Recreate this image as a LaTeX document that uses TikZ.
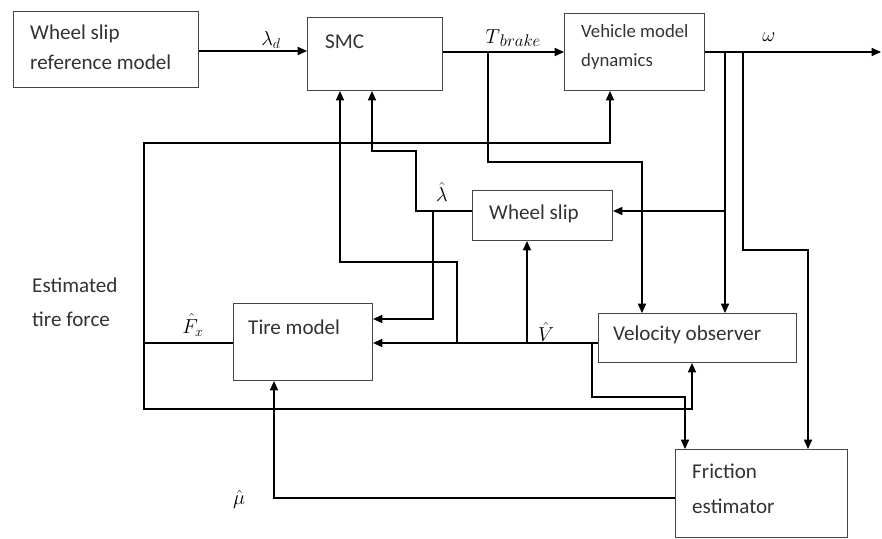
\documentclass[tikz,border=0pt]{standalone}
\usepackage{fontspec}
\setmainfont{Carlito}
\usepackage{tikz}
\usetikzlibrary{arrows.meta}
\definecolor{boxline}{RGB}{70,70,70}
\definecolor{txtgray}{RGB}{50,50,55}

\begin{document}
\begin{tikzpicture}[
    x=0.03cm,y=-0.03cm,
    >={Triangle[length=8pt,width=7pt]},
    block/.style={
      rectangle,draw=boxline,line width=0.9pt,anchor=north west,inner sep=0pt
    },
    txt/.style={
      anchor=west,inner sep=0pt,text=txtgray,align=left,
      font=\fontsize{18}{25.5}\selectfont
    },
    lbl/.style={inner sep=0pt,font=\fontsize{18}{20}\selectfont},
    sig/.style={->,line width=1pt,color=black}
  ]
    \useasboundingbox (0,0) rectangle (882,539);

    % blocks
    \node[block,minimum width=5.55cm,minimum height=2.28cm] (ref) at (13,11) {};
    \node[block,minimum width=4.05cm,minimum height=2.19cm] (smc) at (307,17) {};
    \node[block,minimum width=4.2cm,minimum height=2.31cm] (veh) at (564,13) {};
    \node[block,minimum width=4.2cm,minimum height=1.5cm] (slip) at (472,190) {};
    \node[block,minimum width=5.94cm,minimum height=1.47cm] (obs) at (598,313) {};
    \node[block,minimum width=4.17cm,minimum height=2.31cm] (tire) at (233,303) {};
    \node[block,minimum width=5.16cm,minimum height=2.64cm] (fric) at (675,449) {};

    % block texts
    \node[txt] (reft) at (30,47) {Wheel slip\\reference model};
    \node[txt] (smct) at (325,42) {SMC};
    \node[txt,font=\fontsize{16}{25.5}\selectfont] (veht) at (581,47) {Vehicle model\\dynamics};
    \node[txt] (slipt) at (489,214) {Wheel slip};
    \node[txt] (obst) at (613,335) {Velocity observer};
    \node[txt] (tiret) at (248,327) {Tire model};
    \node[txt,font=\fontsize{18}{30}\selectfont] (frict) at (692,489) {Friction\\estimator};
    \node[txt,font=\fontsize{18}{29}\selectfont] (est) at (32,302) {Estimated\\tire force};

    % signal labels
    \node[lbl] (lamd) at (271,40) {$\lambda_d$};
    \node[lbl] (tbrk) at (513,38) {$T$\raisebox{-3pt}{\fontsize{15}{15}\selectfont$brake$}};
    \node[lbl] (omg) at (769,37) {$\omega$};
    \node[lbl] (lamh) at (442,192) {$\hat{\lambda}$};
    \node[lbl] (fxh) at (193,325) {$\hat{F}_x$};
    \node[lbl] (vhat) at (546,332) {$\hat{V}$};
    \node[lbl] (muh) at (239,499) {$\hat{\mu}$};

    % tap points
    \coordinate (out) at (881,52);
    \coordinate (tb) at (488,52);
    \coordinate (tbk) at (642,162);
    \coordinate (w1) at (725,52);
    \coordinate (w2) at (743,52);
    \coordinate (w2k) at (808,250);
    \coordinate (v1) at (527,343);
    \coordinate (v2) at (457,343);
    \coordinate (v2k) at (340,262);
    \coordinate (v3) at (592,343);
    \coordinate (v3k) at (685,397);
    \coordinate (l1) at (433,211);
    \coordinate (l1k) at (416,151);
    \coordinate (l2k) at (372,90);
    \coordinate (f1) at (144,343);
    \coordinate (f1k) at (610,143);
    \coordinate (f2k) at (692,409);

    % forward path
    \draw[sig] (ref.east |- 0,51) -- (smc.west |- 0,51);
    \draw[sig] (smc.east |- tb) -- (veh.west |- tb);
    \draw[sig] (veh.east |- w1) -- (out);

    % torque and wheel speed taps
    \draw[sig] (tb) |- (tbk) -- (obs.north -| tbk);
    \draw[sig] (w1) -- (obs.north -| w1);
    \draw[sig] (w1 |- l1) -- (slip.east |- l1);
    \draw[sig] (w2) |- (w2k) -- (fric.north -| w2k);

    % velocity estimate
    \draw[sig] (obs.west |- v1) -- (tire.east |- v1);
    \draw[sig] (v1) -- (slip.south -| v1);
    \draw[sig] (v2) |- (v2k) -- (smc.south -| v2k);
    \draw[sig] (v3) |- (v3k) -- (fric.north -| v3k);

    % slip estimate
    \draw[sig] (slip.west |- l1) -| (l1k) -| (smc.south -| l2k);
    \draw[sig] (l1) |- (tire.east |- 0,319);

    % tire force estimate
    \draw[sig] (tire.west |- f1) -- (f1) |- (f1k) -- (veh.south -| f1k);
    \draw[sig] (f1) |- (f2k) -- (obs.south -| f2k);

    % friction estimate
    \draw[sig] (fric.west |- 0,498) -| (tire.south -| 274,0);
\end{tikzpicture}
\end{document}
